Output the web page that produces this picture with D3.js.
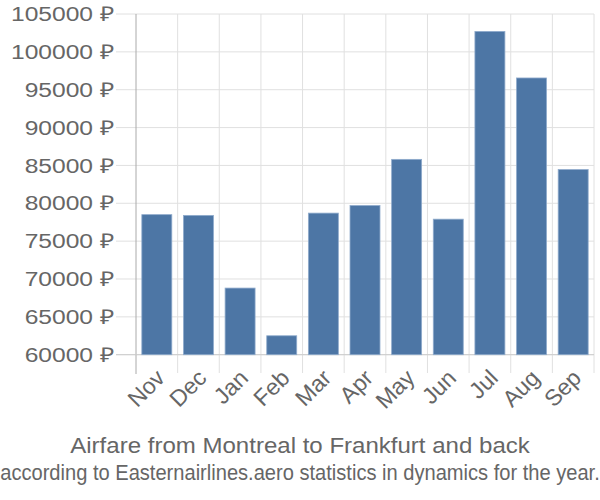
<!DOCTYPE html>
<html><head><meta charset="utf-8">
<script src="https://cdn.jsdelivr.net/npm/d3@7"></script>
<style>body{margin:0;background:#fff}text{font-family:"Liberation Sans",Arial,sans-serif;fill:#666}</style>
</head><body><svg id="c" width="600" height="500"></svg>
<script>
const months = ["Nov","Dec","Jan","Feb","Mar","Apr","May","Jun","Jul","Aug","Sep"];
const prices = [78500,78400,68800,62500,78700,79700,85800,77900,102700,96550,84450];
const yTicks = [60000,65000,70000,75000,80000,85000,90000,95000,100000,105000];
const title = "Airfare from Montreal to Frankfurt and back";
const subtitle = "according to Easternairlines.aero statistics in dynamics for the year.";

(function () {
const svg = d3.select("#c");
const pl = 136, pr = 594, pt = 14, pb = 354.7;
const x = d3.scaleBand().domain(months).range([pl, pr]).paddingInner(0.28).paddingOuter(0.14);
const y = d3.scaleLinear().domain([60000, 105000]).range([pb, pt]);

svg.append("g").selectAll("line").data(yTicks).join("line")
  .attr("x1", 116).attr("x2", pr).attr("y1", d => y(d)).attr("y2", d => y(d))
  .attr("stroke", "#e0e0e0").attr("stroke-width", 1);
const step = x.step();
const vlines = d3.range(1, months.length + 1).map(i => pl + i * step);
svg.append("g").selectAll("line").data(vlines).join("line")
  .attr("x1", d => d).attr("x2", d => d).attr("y1", pt).attr("y2", 373)
  .attr("stroke", "#e0e0e0").attr("stroke-width", 1);
svg.append("line").attr("x1", pl).attr("x2", pl).attr("y1", pt).attr("y2", 374)
  .attr("stroke", "#aaa").attr("stroke-width", 1);
svg.append("line").attr("x1", 116).attr("x2", pr).attr("y1", pb).attr("y2", pb)
  .attr("stroke", "#ccc").attr("stroke-width", 1);

svg.append("g").selectAll("rect").data(months).join("rect")
  .attr("x", d => x(d)).attr("width", x.bandwidth())
  .attr("y", (d, i) => y(prices[i])).attr("height", (d, i) => pb - y(prices[i]))
  .attr("fill", "#4d76a5").attr("stroke", "#8fabcc").attr("stroke-width", 0.8);

svg.append("g").selectAll("text").data(yTicks).join("text")
  .attr("transform", d => `translate(114,${y(d)}) scale(1.2,1)`)
  .attr("dy", "0.35em")
  .attr("text-anchor", "end").attr("font-size", 20.5)
  .text(d => d + " ₽");

svg.append("g").selectAll("text").data(months).join("text")
  .attr("transform", d => `translate(${x(d) + x.bandwidth() / 2 - 2},${368}) rotate(-45)`)
  .attr("text-anchor", "end").attr("dy", "0.7em").attr("font-size", 23)
  .text(d => d);

svg.append("text").attr("transform", "translate(300,453) scale(1.124,1)").attr("text-anchor", "middle")
  .attr("font-size", 21.4).text(title);
svg.append("text").attr("transform", "translate(300,480) scale(0.935,1)").attr("text-anchor", "middle")
  .attr("font-size", 21.5).text(subtitle);
})();
</script></body></html>
